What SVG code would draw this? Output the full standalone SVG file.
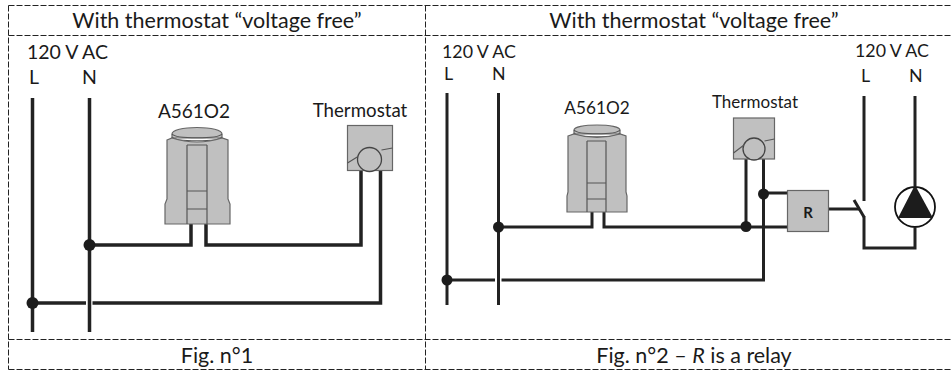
<svg xmlns="http://www.w3.org/2000/svg" width="952" height="374" viewBox="0 0 952 374">
<style>
text{font-family:"Lato","Carlito","Liberation Sans",sans-serif;fill:#1a1a1a}
.h{font-size:21.500px;text-anchor:middle}
.b{text-anchor:middle}
.g{stroke:#222;stroke-width:1;stroke-dasharray:6 2;fill:none}
.w{stroke:#222;stroke-width:3.500;fill:none}
.t{stroke:#222;stroke-width:3;fill:none}
.c{fill:#c0c0c0;stroke:#666;stroke-width:1.200}
.k{fill:none;stroke:#555;stroke-width:1.200}
.d{fill:#1c1c1c}
</style>
<rect width="952" height="374" fill="#fff"/>
<g id="table">
<path class="g" d="M8.500 5.500H952M8.500 35.500H952M8.500 339.500H952M8.500 369.500H952M8.500 5.500V369.500M425.500 5.500V369.500"/>
<text class="h" x="217" y="27.500">With thermostat “voltage free”</text>
<text class="h" x="694" y="27.500">With thermostat “voltage free”</text>
<text class="h" x="217" y="362.500">Fig. n°1</text>
<text class="h" x="694" y="362.500">Fig. n°2 – <tspan font-style="italic">R</tspan> is a relay</text>
</g>
<g id="connectors">
<path class="w" d="M32.500 98V332M89.500 98V332"/>
<path class="w" d="M89.500 245H191V224M206 224V245H361V171M380.500 171V303H92.500M86 303H32.500"/>
<path class="t" d="M447 93V305M498.500 93V305"/>
<path class="t" d="M498.500 227H592V212M604 212V227H787M746 159V227M763.500 159V280H501.500M763.500 193H787M495 280H447"/>
<path class="t" d="M864 96V201M915 96V186M915 228V248H864V216M829 209H860"/>
<path class="t" d="M854 200L864 217"/>
</g>
<g id="dots">
<circle class="d" cx="89.500" cy="245" r="6"/>
<circle class="d" cx="32.500" cy="303" r="6"/>
<circle class="d" cx="498.500" cy="227" r="5.500"/>
<circle class="d" cx="447" cy="280" r="5.500"/>
<circle class="d" cx="746" cy="226.500" r="5.500"/>
<circle class="d" cx="763.500" cy="194" r="5.500"/>
</g>
<g id="labels-left" style="font-size:19.500px">
<text x="27" y="59">120 V AC</text>
<text x="29" y="84">L</text>
<text x="82" y="84">N</text>
</g>
<g id="labels-right" style="font-size:17.800px">
<text x="442" y="58">120 V AC</text>
<text x="444" y="80">L</text>
<text x="492" y="80">N</text>
<text x="855" y="57">120 V AC</text>
<text x="861" y="82">L</text>
<text x="909" y="82">N</text>
</g>
<g id="actuator1">
<text class="b" x="194" y="118" style="font-size:19px">A561O2</text>
<path class="c" d="M172 138V134C172 130 183 127.500 197 127.500S222 130 222 134V138Z"/>
<path class="k" d="M172 134C176 139 218 139 222 134M172 137C176 142 218 142 222 137"/>
<path class="c" d="M167 140L172 138Q197 146 222 138L228 140V199L230 204V224H165V204L167 199Z"/>
<path class="k" d="M187 145V224M207 145V224M187 145H207M187 191H207M187 209H207"/>
</g>
<g id="thermostat1">
<text class="b" x="360" y="117" style="font-size:18.700px">Thermostat</text>
<rect class="c" x="347.500" y="125.500" width="45" height="45"/>
<circle cx="369.500" cy="159.500" r="12" fill="#c0c0c0" stroke="#444" stroke-width="1.300"/>
<path class="k" d="M347.500 163L358 156.500M381.500 150L392.500 148"/>
</g>
<g id="actuator2">
<text class="b" x="597" y="114" style="font-size:17.200px">A561O2</text>
<path class="c" d="M574 134V130C574 127 584 125 597 125S620 127 620 130V134Z"/>
<path class="k" d="M574 130C578 135 616 135 620 130M574 133C578 138 616 138 620 133"/>
<path class="c" d="M568 136L574 134Q597 141 620 134L626 136V192L627 196V212H567V196L568 192Z"/>
<path class="k" d="M587 141V212M606 141V212M587 141H606M587 183H606M587 199H606"/>
</g>
<g id="thermostat2">
<text class="b" x="755" y="108" style="font-size:17px">Thermostat</text>
<rect class="c" x="733.500" y="118" width="41" height="41"/>
<circle cx="754" cy="149" r="11" fill="#c0c0c0" stroke="#444" stroke-width="1.300"/>
<path class="k" d="M733.500 153L744 145M764.500 141L774.500 139"/>
</g>
<g id="relay">
<rect class="c" x="787.500" y="190.500" width="41" height="41"/>
<text x="808" y="218" text-anchor="middle" style="font-size:15px;font-weight:700">R</text>
</g>
<g id="pump">
<circle cx="915" cy="207" r="20" fill="#fff" stroke="#111" stroke-width="1.800"/>
<path class="d" d="M915 185L898 218H933Z"/>
</g>
</svg>
